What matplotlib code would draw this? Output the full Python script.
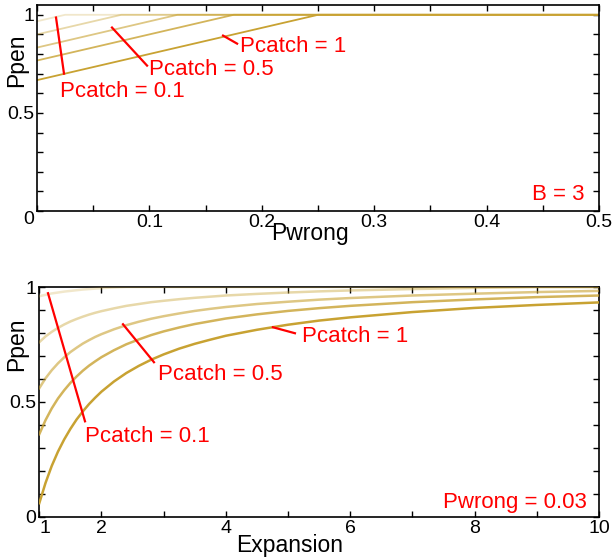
import numpy as np
import matplotlib
matplotlib.use("Agg")
import matplotlib.pyplot as plt

plt.rcParams['font.family'] = ['Liberation Sans', 'DejaVu Sans']

# Pcatch values, lightest curve first
pcatch = [0.1, 0.3, 0.5, 0.7, 1]
alphas = [0.25, 0.42, 0.6, 0.8, 1.0]
gold = '#c8a232'

# top panel (B = 3): value at Pwrong = 0 and where each line hits 1
top_start = [0.967, 0.9, 0.833, 0.767, 0.667]
top_kink = [0.025, 0.075, 0.125, 0.175, 0.25]

# bottom panel (Pwrong = 0.03)
expansion = [1, 1.1, 1.2, 1.3, 1.4, 1.5, 1.6, 1.7, 1.8, 1.9, 2, 2.2, 2.4, 2.6, 2.8, 3,
             3.25, 3.5, 3.75, 4, 4.5, 5, 5.5, 6, 7, 8, 9, 10]
ppen_01 = [0.960, 0.966, 0.972, 0.976, 0.980, 0.983, 0.986, 0.989, 0.991, 0.993, 0.995,
           0.998, 1.0, 1.0, 1.0, 1.0, 1.0, 1.0, 1.0, 1.0, 1.0, 1.0, 1.0, 1.0, 1.0, 1.0,
           1.0, 1.0]
ppen_03 = [0.760, 0.785, 0.805, 0.822, 0.837, 0.850, 0.861, 0.871, 0.880, 0.888, 0.895,
           0.907, 0.918, 0.926, 0.934, 0.940, 0.947, 0.953, 0.958, 0.963, 0.970, 0.976,
           0.981, 0.985, 0.991, 0.996, 1.0, 1.0]
ppen_05 = [0.560, 0.603, 0.638, 0.668, 0.694, 0.717, 0.736, 0.754, 0.769, 0.783, 0.795,
           0.816, 0.834, 0.849, 0.862, 0.873, 0.885, 0.896, 0.905, 0.913, 0.926, 0.936,
           0.945, 0.952, 0.963, 0.971, 0.978, 0.983]
ppen_07 = [0.360, 0.421, 0.472, 0.515, 0.551, 0.583, 0.611, 0.636, 0.658, 0.677, 0.695,
           0.725, 0.751, 0.772, 0.791, 0.807, 0.824, 0.839, 0.851, 0.863, 0.881, 0.896,
           0.908, 0.918, 0.934, 0.946, 0.956, 0.963]
ppen_1 = [0.060, 0.148, 0.222, 0.284, 0.337, 0.383, 0.424, 0.459, 0.491, 0.519, 0.545,
          0.589, 0.626, 0.657, 0.684, 0.707, 0.732, 0.753, 0.771, 0.788, 0.814, 0.836,
          0.854, 0.868, 0.891, 0.909, 0.922, 0.933]
bottom_curves = [ppen_01, ppen_03, ppen_05, ppen_07, ppen_1]

red = '#ff0000'
fig = plt.figure(figsize=(6.13, 5.60), dpi=100)
ax1 = fig.add_axes([0.0604, 0.6232, 0.9168, 0.3679])
ax2 = fig.add_axes([0.0641, 0.0768, 0.9130, 0.4107])


def style(ax):
    for s in ax.spines.values():
        s.set_linewidth(1.2)
    ax.tick_params(which='both', direction='in', top=True, right=True,
                   length=4, width=1, labelsize=14, pad=2)


# ---- top panel
for p, y0, k, a in zip(pcatch, top_start, top_kink, alphas):
    ax1.plot([0, k, 0.5], [y0, 1, 1], color=gold, alpha=a, lw=1.3)
ax1.set_xlim(0, 0.5)
ax1.set_ylim(0, 1.05)
ax1.set_xticks([0, 0.1, 0.2, 0.3, 0.4, 0.5])
ax1.set_xticklabels(['', '0.1', '0.2', '0.3', '0.4', '0.5'])
ax1.set_xticks(np.arange(0.05, 0.5, 0.1), minor=True)
ax1.set_yticks([0, 0.5, 1])
ax1.set_yticklabels(['0', '0.5', '1'])
ax1.set_yticks([0.1, 0.2, 0.3, 0.4, 0.6, 0.7, 0.8, 0.9], minor=True)
style(ax1)
ax1.get_yticklabels()[0].set_va('top')
ax1.text(0.486, -0.107, 'Pwrong', transform=ax1.transAxes, ha='center', va='center', fontsize=16.5)
ax1.text(-0.036, 0.733, 'Ppen', transform=ax1.transAxes, ha='center', va='center',
         rotation=90, fontsize=16.5)

ax1.plot([0.0169, 0.024], [0.986, 0.700], color=red, lw=1.6)
ax1.text(0.0205, 0.583, 'Pcatch = 0.1', color=red, fontsize=16, va='baseline')
ax1.plot([0.0667, 0.0979], [0.935, 0.741], color=red, lw=1.6)
ax1.text(0.0996, 0.695, 'Pcatch = 0.5', color=red, fontsize=16, va='baseline')
ax1.plot([0.1655, 0.178], [0.894, 0.853], color=red, lw=1.6)
ax1.text(0.1806, 0.812, 'Pcatch = 1', color=red, fontsize=16, va='baseline')
ax1.text(0.4875, 0.056, 'B = 3', color=red, fontsize=16, va='baseline', ha='right')

# ---- bottom panel
for ys, a in zip(bottom_curves, alphas):
    ax2.plot(expansion, ys, color=gold, alpha=a, lw=1.8, zorder=3)
ax2.set_xlim(1, 10)
ax2.set_ylim(0, 1)
ax2.set_xticks(range(1, 11))
ax2.set_xticklabels(['1', '2', '', '4', '', '6', '', '8', '', '10'])
ax2.set_yticks([0, 0.5, 1])
ax2.set_yticklabels(['0', '0.5', '1'])
ax2.set_yticks([0.1, 0.2, 0.3, 0.4, 0.6, 0.7, 0.8, 0.9], minor=True)
style(ax2)
ax2.get_xticklabels()[0].set_ha('left')
ax2.text(0.448, -0.122, 'Expansion', transform=ax2.transAxes, ha='center', va='center', fontsize=16.5)
ax2.text(-0.040, 0.752, 'Ppen', transform=ax2.transAxes, ha='center', va='center',
         rotation=90, fontsize=16.5)

ax2.plot([1.14, 1.735], [0.973, 0.416], color=red, lw=1.6, zorder=4)
ax2.text(1.735, 0.325, 'Pcatch = 0.1', color=red, fontsize=16, va='baseline')
ax2.plot([2.346, 2.844], [0.838, 0.673], color=red, lw=1.6, zorder=4)
ax2.text(2.909, 0.594, 'Pcatch = 0.5', color=red, fontsize=16, va='baseline')
ax2.plot([4.757, 5.111], [0.825, 0.799], color=red, lw=1.6, zorder=4)
ax2.text(5.224, 0.761, 'Pcatch = 1', color=red, fontsize=16, va='baseline')
ax2.text(9.807, 0.038, 'Pwrong = 0.03', color=red, fontsize=16, va='baseline', ha='right')

fig.savefig('out.png', dpi=100)
